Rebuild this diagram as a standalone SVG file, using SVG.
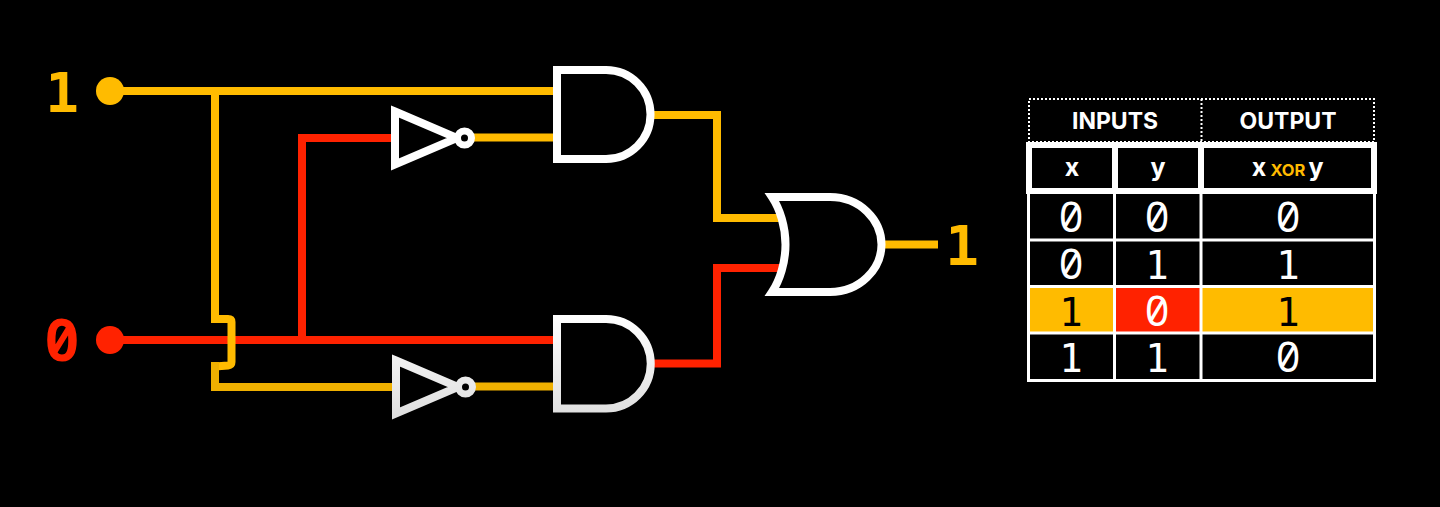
<svg xmlns="http://www.w3.org/2000/svg" width="1440" height="507" viewBox="0 0 1440 507">
<style>
.w{fill:none;stroke-width:8;stroke-linejoin:miter}
.o{stroke:#FFBB00}.r{stroke:#FF2200}.od{stroke:#EFB000}
.g{fill:none;stroke:#fff;stroke-width:8;stroke-miterlimit:10}
.b{fill:#000;stroke-width:7}
.gd{stroke:url(#fade)}
.big{font:700 56px "DejaVu Sans Mono",monospace;text-anchor:middle}
.bz{font:700 59px "Noto Sans Mono","DejaVu Sans Mono",monospace;text-anchor:middle}
.d{font:400 39px "DejaVu Sans Mono",monospace;text-anchor:middle;fill:#fff}
.z{font:400 42px "Noto Sans Mono","DejaVu Sans Mono",monospace;text-anchor:middle;fill:#fff}
.h{font:700 23px Inter,"Liberation Sans",sans-serif;text-anchor:middle;fill:#fff}
.l{font:700 25px Inter,"Liberation Sans",sans-serif;text-anchor:middle;fill:#fff}
.rule{stroke:#fff;stroke-width:3;fill:none}
.dot{stroke:#fff;stroke-width:2;stroke-dasharray:2 2;fill:none}
</style>
<defs>
<linearGradient id="fade" gradientUnits="userSpaceOnUse" x1="0" y1="315" x2="0" y2="420">
<stop offset="0" stop-color="#fff"/><stop offset="1" stop-color="#dedede"/>
</linearGradient>
<path id="and" d="M557 70H606A44.5 44.5 0 0 1 606 159H557Z"/>
</defs>
<rect width="1440" height="507" fill="#000"/>
<g id="connectors">
<path class="w r" d="M110 340H553"/>
<path class="w r" d="M302 340V138H392"/>
<path class="w o" d="M110 91H553"/>
<path class="w o" d="M215 91V319H228Q231.500 319 231.500 322V362Q231.500 365 228 365.500L215 366.500"/>
<path class="w od" d="M215 362V387H392"/>
<path class="w o" d="M474 137.500H553"/>
<path class="w od" d="M475 386.500H553"/>
<path class="w o" d="M654 115H717V218H780"/>
<path class="w r" d="M654 363.500H717V268H780"/>
<path class="w o" d="M885 244.500H938"/>
</g>
<g id="input-x">
<circle cx="110" cy="91" r="14" fill="#FFBB00"/>
<text class="big" x="62" y="112" fill="#FFBB00">1</text>
</g>
<g id="input-y">
<circle cx="110" cy="340" r="14" fill="#FF2200"/>
<text class="bz" x="62" y="361" fill="#FF2200">0</text>
</g>
<g id="not-top">
<path class="g" d="M395 111.500L457 138L395 164.500Z"/>
<circle class="g b" cx="464.500" cy="138" r="7"/>
</g>
<g id="and-top"><use href="#and" class="g"/></g>
<g id="not-bottom">
<path class="g gd" d="M396 360.500L458 387L396 413.500Z"/>
<circle class="g gd b" cx="465.500" cy="387" r="7"/>
</g>
<g id="and-bottom"><path class="g gd" d="M557 319H606A44.500 44.500 0 0 1 606 408.500H557Z"/></g>
<g id="or">
<path class="g" d="M772 197H830C860 197 881.500 220 881.500 244.500C881.500 269 860 292 830 292H772C780 280 785.500 262 785.500 244.500C785.500 227 780 209 772 197Z"/>
</g>
<g id="output">
<text class="big" x="962" y="265" fill="#FFBB00">1</text>
</g>
<g id="table">
<rect x="1029" y="99" width="345" height="43" class="dot"/>
<path class="dot" d="M1201.500 99V142"/>
<text class="h" x="1115" y="129">INPUTS</text>
<text class="h" x="1288" y="129">OUTPUT</text>
<rect x="1026" y="142" width="351" height="52" fill="#fff"/>
<rect x="1032" y="148" width="80" height="40" fill="#000"/>
<rect x="1118" y="148" width="80" height="40" fill="#000"/>
<rect x="1204" y="148" width="167" height="40" fill="#000"/>
<text class="l" x="1072" y="176">x</text>
<text class="l" x="1158" y="176">y</text>
<text class="l" y="176"><tspan x="1259">x</tspan><tspan x="1288" font-size="16.500" fill="#FFBB00">XOR</tspan><tspan x="1316">y</tspan></text>
<rect x="1029" y="287" width="86" height="46" fill="#FFBB00"/>
<rect x="1115" y="287" width="86" height="46" fill="#FF2200"/>
<rect x="1201" y="287" width="173" height="46" fill="#FFBB00"/>
<path class="rule" d="M1028.500 194V380.500H1374.500V194M1114.500 194V380.500M1201 194V380.500M1028.500 240H1374.500M1028.500 286.500H1374.500M1028.500 333H1374.500"/>
<text class="z" x="1071" y="232">0</text><text class="z" x="1157" y="232">0</text><text class="z" x="1288" y="232">0</text>
<text class="z" x="1071" y="279">0</text><text class="d" x="1157" y="279">1</text><text class="d" x="1288" y="279">1</text>
<text class="d" x="1071" y="326" style="fill:#000">1</text><text class="z" x="1157" y="326">0</text><text class="d" x="1288" y="326" style="fill:#000">1</text>
<text class="d" x="1071" y="372">1</text><text class="d" x="1157" y="372">1</text><text class="z" x="1288" y="372">0</text>
</g>
</svg>
